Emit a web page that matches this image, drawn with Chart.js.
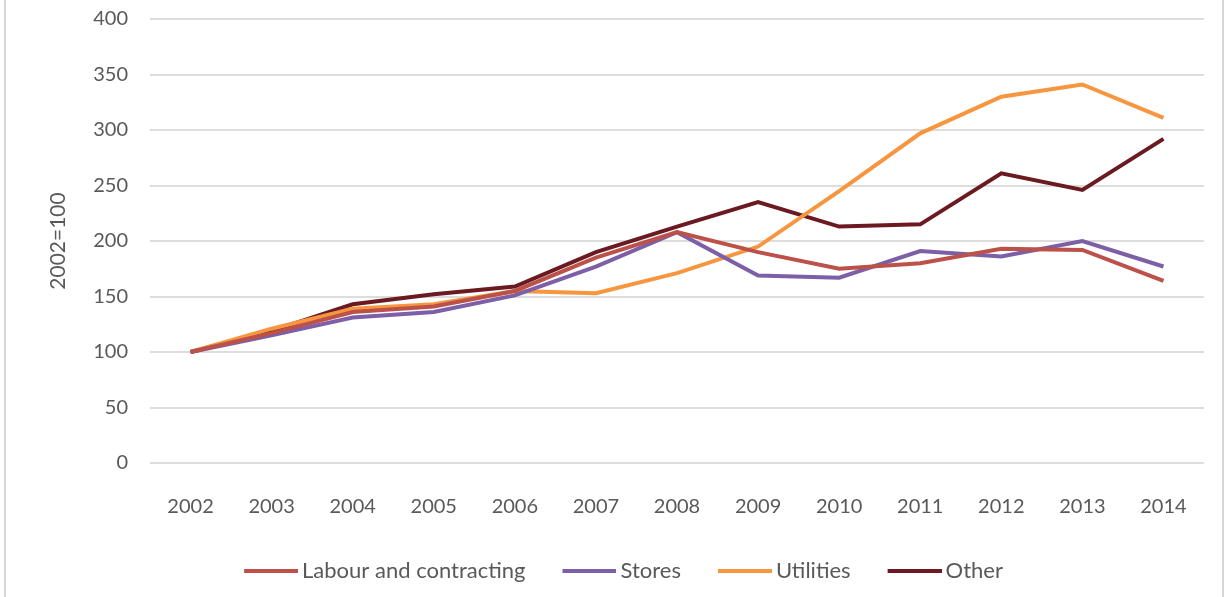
<!DOCTYPE html>
<html>
<head>
<meta charset="utf-8">
<script src="https://cdn.jsdelivr.net/npm/chart.js@4.4.1/dist/chart.umd.min.js"></script>
<style>
  html, body { margin: 0; padding: 0; background: #fff; }
  #wrap {
    position: relative; width: 1228px; height: 597px; overflow: hidden;
  }
  #wrap::before, #wrap::after {
    content: ''; position: absolute; top: 0; bottom: 0; width: 2px; background: #d6d6d6;
  }
  #wrap::before { left: 4px; }
  #wrap::after { left: 1222px; }
  canvas { display: block; position: absolute; left: 0; top: -15px; }
</style>
</head>
<body>
<div id="wrap"><canvas id="chart" width="1228" height="612"></canvas></div>
<script>
// Index values, 2002 = 100
const years = ['2002', '2003', '2004', '2005', '2006', '2007', '2008', '2009', '2010', '2011', '2012', '2013', '2014'];
const labourValues    = [100, 117, 136, 141, 155, 185, 208, 190, 175, 180, 193, 192, 164];
const storesValues    = [100, 115, 131, 136, 151, 177, 208, 169, 167, 191, 186, 200, 177];
const utilitiesValues = [100, 121, 139, 143, 155, 153, 171, 195, 245, 297, 330, 341, 311];
const otherValues     = [100, 119, 143, 152, 159, 190, 213, 235, 213, 215, 261, 246, 292];
const yTicks = [0, 50, 100, 150, 200, 250, 300, 350, 400];

const textColor = '#595959';
const gridColor = '#dddddd';
const font = "Lato, 'Open Sans', sans-serif";

// legend swatch: blank gap on the left (spacing between items),
// then a line that runs almost up to the label text
function swatch(color) {
  const c = document.createElement('canvas');
  c.width = 96;
  c.height = 6;
  const ctx = c.getContext('2d');
  ctx.strokeStyle = color;
  ctx.lineWidth = 4;
  ctx.beginPath();
  ctx.moveTo(42, 3);
  ctx.lineTo(96, 3);
  ctx.stroke();
  return c;
}

function lineSet(label, data, color) {
  return {
    label,
    data,
    borderColor: color,
    backgroundColor: color,
    borderWidth: 4,
    pointRadius: 0,
    pointStyle: swatch(color),
    tension: 0,
    fill: false,
  };
}

// move the legend sideways to undo the blank part of the first swatch
const legendShift = {
  id: 'legendShift',
  afterLayout(chart) {
    chart.legend.left -= 19;
    chart.legend.right -= 19;
  },
};

new Chart(document.getElementById('chart'), {
  type: 'line',
  data: {
    labels: years,
    datasets: [
      lineSet('Labour and contracting', labourValues, '#bb5149'),
      lineSet('Stores', storesValues, '#7c5fa6'),
      lineSet('Utilities', utilitiesValues, '#f7963f'),
      lineSet('Other', otherValues, '#6a1a20'),
    ],
  },
  plugins: [legendShift],
  options: {
    responsive: false,
    animation: false,
    layout: { padding: { left: 46, right: 24, top: 0, bottom: 5 } },
    plugins: {
      tooltip: { enabled: false },
      legend: {
        position: 'bottom',
        labels: {
          color: textColor,
          font: { family: font, size: 22 },
          usePointStyle: true,
          pointStyleWidth: 82,
          padding: 2,
        },
      },
    },
    scales: {
      x: {
        offset: true,
        afterFit: axis => { axis.height += 15; },
        grid: { display: false },
        border: { display: false },
        ticks: { color: textColor, font: { family: font, size: 20 }, padding: 24 },
      },
      y: {
        min: 0,
        max: 400,
        afterBuildTicks: axis => { axis.ticks = yTicks.map(v => ({ value: v })); },
        afterFit: axis => { axis.width = 104; },
        grid: { color: gridColor, lineWidth: 2, drawTicks: false },
        border: { display: false },
        ticks: { color: textColor, font: { family: font, size: 20 }, padding: 22 },
        title: {
          display: true,
          text: '2002=100',
          color: textColor,
          font: { family: font, size: 21 },
          padding: { top: 0, bottom: 0 },
        },
      },
    },
  },
});
</script>
</body>
</html>
